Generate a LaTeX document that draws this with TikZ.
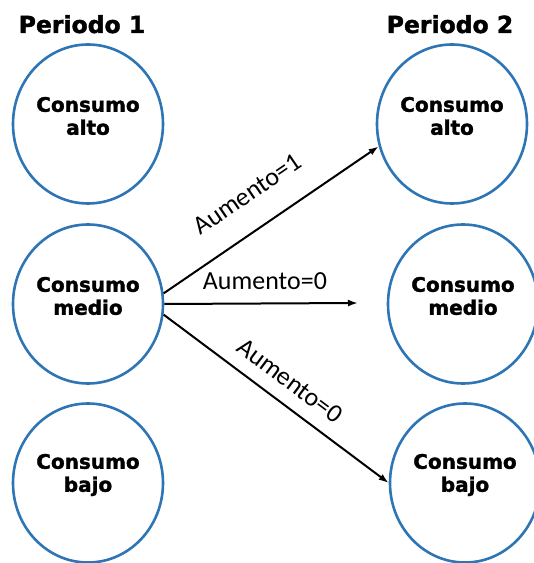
\documentclass[tikz,border=0pt]{standalone}
\usepackage{fontspec}
\newfontfamily\dejavu{DejaVu Sans}[BoldFeatures={FakeBold=1.6}]
\newfontfamily\carlito{Carlito}
\usetikzlibrary{shapes.geometric,arrows.meta}
\definecolor{azul}{RGB}{46,117,182}
\tikzset{
	estado/.style={ellipse, draw=azul, line width=2.6pt, minimum width=150pt, minimum height=159pt, inner sep=0pt},
	dentro/.style={align=center, inner sep=1pt, yshift=8pt, font=\dejavu\bfseries\fontsize{20}{23}\selectfont},
	periodo/.style={anchor=base, inner sep=0pt, font=\dejavu\bfseries\fontsize{23.5}{26}\selectfont},
	flecha/.style={line width=2pt, -{Latex[length=10pt,width=7pt]}},
	aumento/.style={sloped, font=\carlito\fontsize{26}{28}\selectfont}
}

\begin{document}
\begin{tikzpicture}[x=1pt, y=1pt]
	\useasboundingbox (0,0) rectangle (534,563);

	% titulos
	\node[periodo] (p1) at (82, 530) {Periodo 1};
	\node[periodo] (p2) at (450, 530) {Periodo 2};

	% periodo 1
	\node[estado, label={[dentro]center:{Consumo\\alto}}] (a1) at (88, 439) {};
	\node[estado, label={[dentro]center:{Consumo\\medio}}] (m1) at (88, 259) {};
	\node[estado, label={[dentro]center:{Consumo\\bajo}}] (b1) at (88, 80) {};

	% periodo 2
	\node[estado, label={[dentro]center:{Consumo\\alto}}] (a2) at (452, 439) {};
	\node[estado, label={[dentro]center:{Consumo\\medio}}] (m2) at (463, 259) {};
	\node[estado, label={[dentro]center:{Consumo\\bajo}}] (b2) at (465, 80) {};
	\coordinate (fin) at (358, 260);

	\draw[flecha] (m1.8) -- (a2.197) node[aumento, above=22pt, pos=0.48] {Aumento=1};
	\draw[flecha] (m1.east) -- (fin) node[aumento, above=9.5pt, pos=0.52] {Aumento=0};
	\draw[flecha] (m1.-8) -- (b2.west) node[aumento, above=10pt, pos=0.5] {Aumento=0};
\end{tikzpicture}
\end{document}
